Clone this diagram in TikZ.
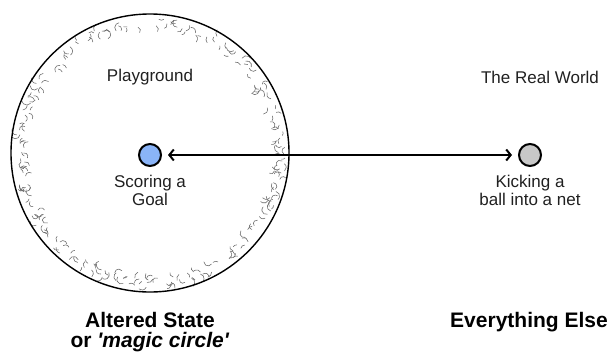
\documentclass[tikz,border=0pt]{standalone}
\usepackage{fontspec}
\setmainfont{Liberation Sans}
\newfontfamily\plainq{Liberation Sans}
\usetikzlibrary{arrows.meta}
\definecolor{dotblue}{HTML}{8AB4F8}
\definecolor{dotgray}{HTML}{C8C8C8}
\definecolor{txt}{HTML}{202020}
\begin{document}
\begin{tikzpicture}[x=1pt,y=-1pt,
  lbl/.style={font=\fontsize{17}{18}\selectfont, align=center, text=txt, inner sep=0pt},
  biglbl/.style={font=\bfseries\fontsize{21}{20}\selectfont, align=center, text=black, inner sep=0pt},
  dotnode/.style={circle, draw=black, line width=2pt, minimum size=22pt, inner sep=0pt},
  texmark/.style={draw=black!60, line width=0.55pt, line cap=round},
  link/.style={line width=2pt, {Straight Barb[length=4.5pt,width=11pt]}-{Straight Barb[length=4.5pt,width=11pt]}}]
\useasboundingbox (0,0) rectangle (616,356);
% texture inside the rim
\pgfmathsetseed{11}
\foreach \k in {1,...,210}{
  \pgfmathsetmacro\th{360*rnd}
  \pgfmathsetmacro\rr{124+11*rnd}
  \pgfmathsetmacro\sa{360*rnd}
  \pgfmathsetmacro\ra{3+2*rnd}
  \pgfmathsetmacro\da{60+90*rnd}
  \draw[texmark] ([shift={(150,153)}] \th:\rr) arc[start angle=\sa, delta angle=\da, radius=\ra];
}
\node[circle, draw=black, line width=1.4pt, minimum size=278pt, inner sep=0pt] (ring) at (150,153) {};
\node[lbl] (play) at (150,77) {Playground};
\node[lbl] (real) at (540,77) {The Real World};
\node[dotnode, fill=dotblue] (goal) at (150,155) {};
\node[dotnode, fill=dotgray] (kick) at (530,155) {};
\draw[link] ([xshift=6pt]goal.east) -- ([xshift=-6pt]kick.west);
\node[lbl, anchor=north] (goaltxt) at (150,175) {Scoring a\\Goal};
\node[lbl, anchor=north] (kicktxt) at (530,175) {Kicking a\\ball into a net};
\node[biglbl, anchor=north] (alt) at (150,312) {Altered State\\or \textit{{\plainq '}magic circle{\plainq '}}};
\node[biglbl, anchor=north] (else) at (529,312) {Everything Else};
\end{tikzpicture}
\end{document}
